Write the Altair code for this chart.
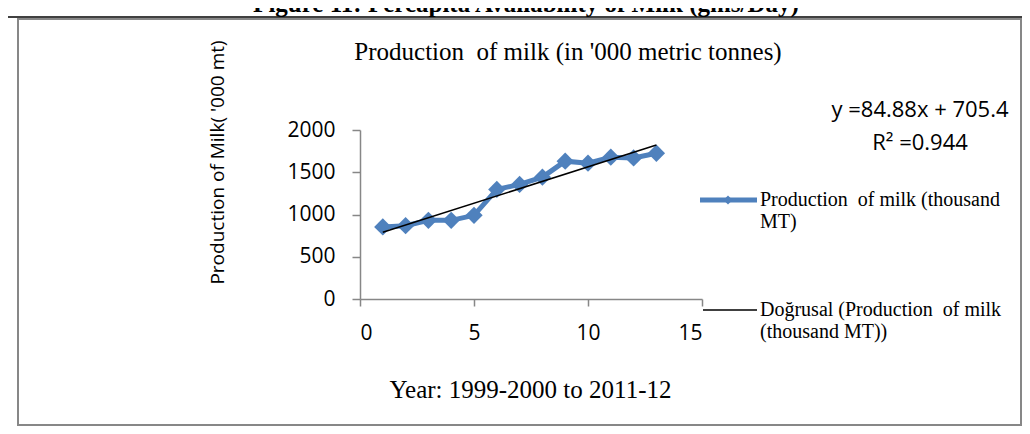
import altair as alt
import pandas as pd

# ---- data ----
years = [1, 2, 3, 4, 5, 6, 7, 8, 9, 10, 11, 12, 13]
milk = [853, 868, 931, 931, 990, 1297, 1356, 1442, 1631, 1607, 1678, 1670, 1725]
x_ticks = [0, 5, 10, 15]
y_ticks = [0, 500, 1000, 1500, 2000]

NB = "\u00a0"
page_title = "Figure 11: Percapita Availability of Milk (gms/Day)"
chart_title = "Production" + NB + " of milk (in '000 metric tonnes)"
x_title = "Year: 1999-2000 to 2011-12"
y_title = "Production of Milk( '000 mt)"
equation = ["y =84.88x + 705.4", "R² =0.944"]
legend1 = ["Production" + NB + " of milk (thousand", "MT)"]
legend2 = ["Doğrusal (Production" + NB + " of milk", "(thousand MT))"]

BLUE = "#4f81bd"
GRAY = "#878787"
SANS = "Open Sans"
SERIF = "Liberation Serif"

df = pd.DataFrame({"year": years, "milk": milk})
one = pd.DataFrame({"k": [0]})

W, H = 342, 169

xs = alt.Scale(domain=[0, 15], nice=False)
ys = alt.Scale(domain=[0, 2000], nice=False)

x_axis = alt.Axis(values=x_ticks, grid=False, domainColor=GRAY, domainWidth=1.5,
                  tickColor=GRAY, tickWidth=1.5, tickSize=7, labelFont=SANS,
                  labelFontSize=21, labelColor="black", labelPadding=27,
                  labelBaseline="middle", format="d", title=x_title, titleFont=SERIF,
                  titleFontSize=25, titleFontWeight="normal", titleColor="black",
                  titleX=170, titleY=90, titleBaseline="middle", titleAlign="center")
y_axis = alt.Axis(values=y_ticks, grid=False, domainColor=GRAY, domainWidth=1.5,
                  tickColor=GRAY, tickWidth=1.5, tickSize=8, labelFont=SANS,
                  labelFontSize=21, labelColor="black", labelPadding=17, format="d",
                  title=y_title, titleFont=SANS, titleFontSize=19,
                  titleFontWeight="normal", titleColor="black", titleAngle=-90,
                  titleX=-143, titleY=32, titleBaseline="middle", titleAlign="center")

base = alt.Chart(df)

line = base.mark_line(color=BLUE, strokeWidth=5).encode(
    x=alt.X("year:Q", scale=xs, axis=x_axis),
    y=alt.Y("milk:Q", scale=ys, axis=y_axis),
)
pts = base.mark_point(shape="diamond", filled=True, color=BLUE, size=300, opacity=1).encode(
    x=alt.X("year:Q", scale=xs), y=alt.Y("milk:Q", scale=ys)
)
trend = base.transform_regression("year", "milk").mark_line(
    color="black", strokeWidth=1.5
).encode(x=alt.X("year:Q", scale=xs), y=alt.Y("milk:Q", scale=ys))

t = alt.Chart(one)

frame = t.mark_rect(fill=None, stroke=GRAY, strokeWidth=2).encode(
    x=alt.value(-342), x2=alt.value(661), y=alt.value(-111), y2=alt.value(295)
)
top_rule = t.mark_rule(color="black", strokeWidth=1.5).encode(
    x=alt.value(-352), x2=alt.value(662), y=alt.value(-113)
)
ptitle = t.mark_text(font=SERIF, fontSize=25, fontWeight="bold", align="center",
                     baseline="alphabetic", color="black").encode(
    x=alt.value(166), y=alt.value(-118), text=alt.value(page_title)
)
ctitle = t.mark_text(font=SERIF, fontSize=25, align="center", baseline="middle",
                     color="black").encode(
    x=alt.value(208), y=alt.value(-78), text=alt.value(chart_title)
)
eq = t.mark_text(font=SANS, fontSize=22, align="center", baseline="middle",
                 lineHeight=33, color="black").encode(
    x=alt.value(560), y=alt.value(-20), text=alt.value(equation)
)
leg1_line = t.mark_rule(color=BLUE, strokeWidth=5).encode(
    x=alt.value(340), x2=alt.value(397), y=alt.value(70)
)
leg1_pt = t.mark_point(shape="diamond", filled=True, color=BLUE, size=80, opacity=1).encode(
    x=alt.value(368), y=alt.value(70)
)
leg1_txt = t.mark_text(font=SERIF, fontSize=20, align="left", baseline="middle",
                       lineHeight=22, color="black").encode(
    x=alt.value(400), y=alt.value(70), text=alt.value(legend1)
)
leg2_line = t.mark_rule(color="black", strokeWidth=1.5).encode(
    x=alt.value(343), x2=alt.value(397), y=alt.value(180)
)
leg2_txt = t.mark_text(font=SERIF, fontSize=20, align="left", baseline="middle",
                       lineHeight=22, color="black").encode(
    x=alt.value(400), y=alt.value(180), text=alt.value(legend2)
)

chart = alt.layer(
    frame, top_rule, line, pts, trend, ptitle, ctitle, eq,
    leg1_line, leg1_pt, leg1_txt, leg2_line, leg2_txt
).properties(
    width=W, height=H,
    padding={"left": 352, "top": 122, "right": 320, "bottom": 127},
    autosize=alt.AutoSizeParams(type="none"),
    background="white",
).configure_view(stroke=None)

chart.save("out.html", embed_options={"renderer": "svg", "actions": False})
